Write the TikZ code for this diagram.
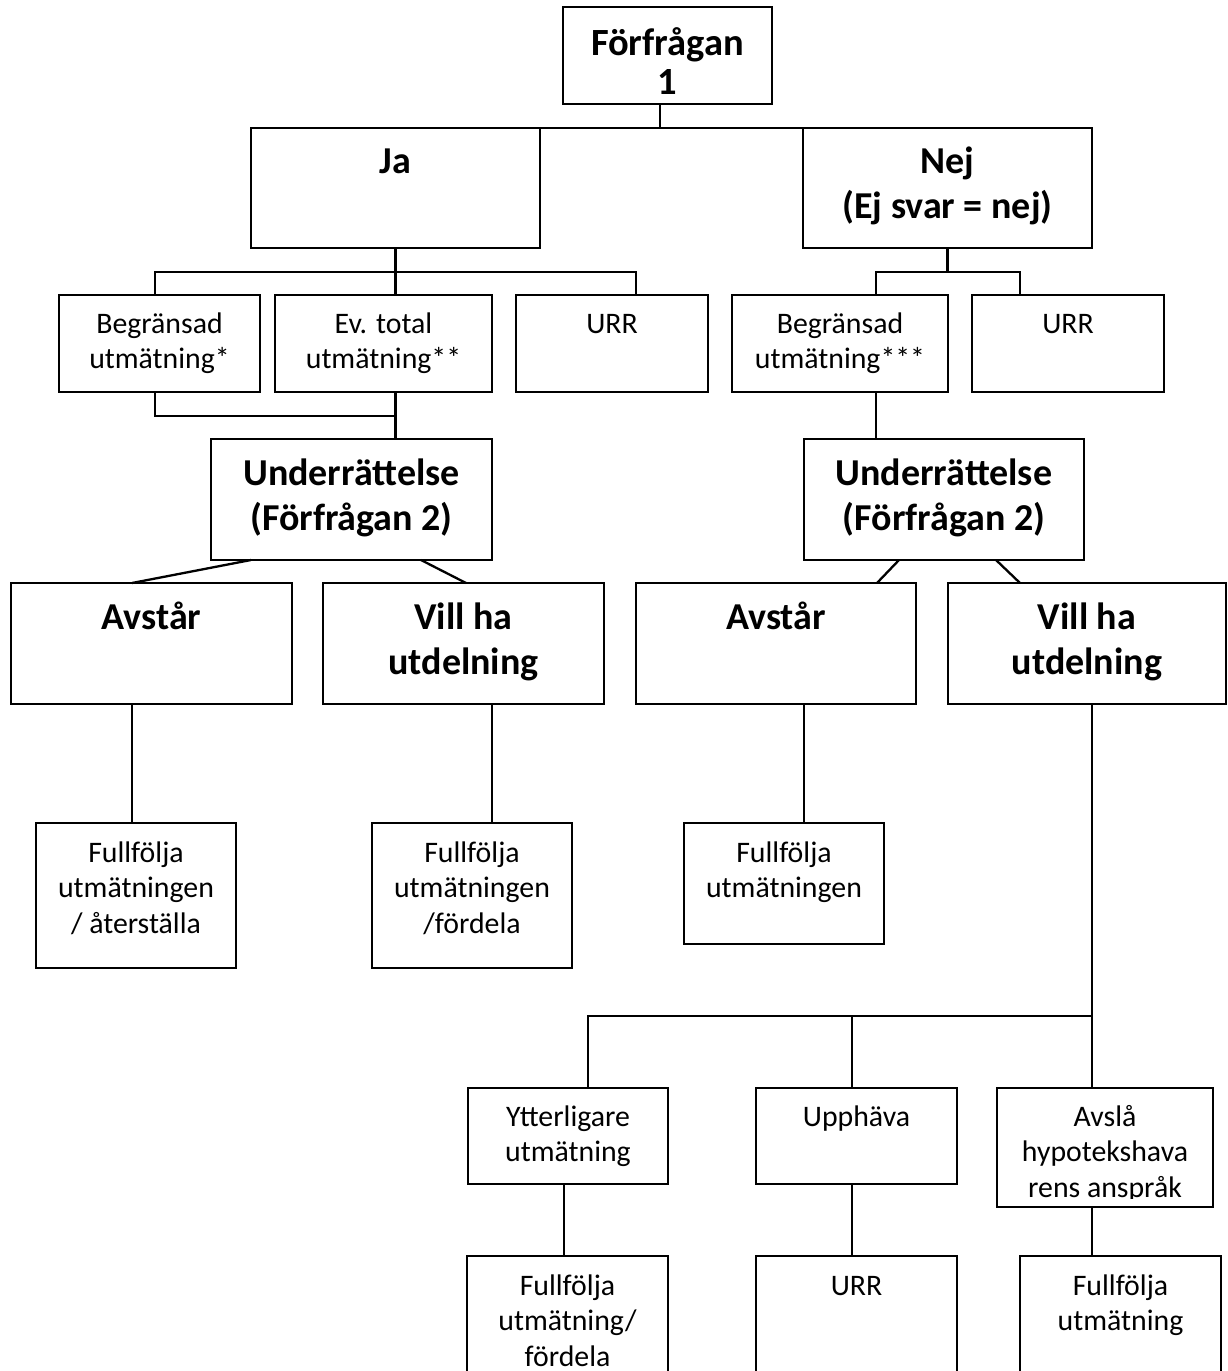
\documentclass[tikz,border=0pt]{standalone}
\usepackage{fontspec}
\setmainfont{Carlito}
\usetikzlibrary{calc}
\tikzset{
  boxst/.style={draw, line width=2.3pt, inner sep=0pt, outer sep=0pt, rectangle},
  conn/.style={line width=2.3pt, line join=miter},
  txt/.style={anchor=base, inner sep=0pt, outer sep=0pt},
}
\newcommand\txtrg{\fontsize{29.8}{35.5}\selectfont}
\newcommand\txtbd{\bfseries\fontsize{38}{45.5}\selectfont}
\newcommand\mkbox[5]{\node[boxst, minimum width={(#4-#2)*1pt}, minimum height={(#5-#3)*1pt}] (#1) at ({(#2+#4)/2},{(#3+#5)/2}) {};}
\newcommand\bxt[4]{\node[txt] (#1-t) at ([yshift=-#2pt]#1.north) {\parbox[t]{330pt}{\centering#3#4}};}
\begin{document}
\begin{tikzpicture}[x=1pt,y=-1pt]
\useasboundingbox (0,0) rectangle (1227,1371);
\clip (0,0) rectangle (1227,1371);

% boxes
\mkbox{F}{563}{7}{772}{104}
\mkbox{Ja}{251}{128}{540}{248}
\mkbox{Nej}{803}{128}{1092}{248}
\mkbox{B1}{59}{295}{260}{392}
\mkbox{E}{275}{295}{492}{392}
\mkbox{U1}{516}{295}{708}{392}
\mkbox{B3}{732}{295}{948}{392}
\mkbox{U2}{972}{295}{1164}{392}
\mkbox{UL}{211}{439}{492}{560}
\mkbox{UR}{804}{439}{1084}{560}
\mkbox{AL}{11}{583}{292}{704}
\mkbox{VL}{323}{583}{604}{704}
\mkbox{AR}{636}{583}{916}{704}
\mkbox{VR}{948}{583}{1226}{704}
\mkbox{FL}{36}{823}{236}{968}
\mkbox{FM}{372}{823}{572}{968}
\mkbox{FR}{684}{823}{884}{944}
\mkbox{Y}{468}{1088}{668}{1184}
\mkbox{UP}{756}{1088}{957}{1184}
\mkbox{AV}{997}{1088}{1213}{1207}
\mkbox{FB1}{467}{1256}{668}{1400}
\mkbox{UR3}{756}{1256}{957}{1400}
\mkbox{FB3}{1020}{1256}{1221}{1400}

% texts
\node[txt] (F-t) at ([yshift=-48pt]F.north) {\parbox[t]{330pt}{\centering\bfseries\fontsize{38.5}{39}\selectfont Förfrågan\\1}};
\bxt{Ja}{45}{\txtbd}{Ja}
\bxt{Nej}{45}{\txtbd}{Nej\\(Ej svar = nej)}
\bxt{B1}{38}{\txtrg}{Begränsad\\utmätning*}
\bxt{E}{38}{\txtrg}{Ev. total\\utmätning**}
\bxt{U1}{38}{\txtrg}{URR}
\bxt{B3}{38}{\txtrg}{Begränsad\\utmätning***}
\bxt{U2}{38}{\txtrg}{URR}
\bxt{UL}{46}{\txtbd}{Underrättelse\\(Förfrågan 2)}
\bxt{UR}{46}{\txtbd}{Underrättelse\\(Förfrågan 2)}
\bxt{AL}{46}{\txtbd}{Avstår}
\bxt{VL}{46}{\txtbd}{Vill ha\\utdelning}
\bxt{AR}{46}{\txtbd}{Avstår}
\bxt{VR}{46}{\txtbd}{Vill ha\\utdelning}
\bxt{FL}{39}{\txtrg}{Fullfölja\\utmätningen\\/ återställa}
\bxt{FM}{39}{\txtrg}{Fullfölja\\utmätningen\\/fördela}
\bxt{FR}{39}{\txtrg}{Fullfölja\\utmätningen}
\bxt{Y}{38}{\txtrg}{Ytterligare\\utmätning}
\bxt{UP}{38}{\txtrg}{Upphäva}
\begin{scope}
\clip (AV.north west) rectangle ([yshift=9pt]AV.south east);
\bxt{AV}{38}{\txtrg}{Avslå\\hypotekshava\\rens anspråk}
\end{scope}
\bxt{FB1}{39}{\txtrg}{Fullfölja\\utmätning/\\fördela}
\bxt{UR3}{39}{\txtrg}{URR}
\bxt{FB3}{39}{\txtrg}{Fullfölja\\utmätning}

% junction coordinates
\coordinate (jF) at (660,128);
\coordinate (hA1) at (155,272);
\coordinate (hA2) at (636,272);
\coordinate (hN1) at (876,272);
\coordinate (hN2) at (1020,272);
\coordinate (jB1) at (155,416);
\coordinate (jB2) at (395.5,416);
\coordinate (jB3) at (876,416);
\coordinate (xAL) at (132,760);
\coordinate (xVL) at (492,760);
\coordinate (xAR) at (804,760);
\coordinate (jY) at (588,1016);
\coordinate (jU) at (852,1016);
\coordinate (jV) at (1092,1016);
\coordinate (xY2) at (564,1220);

% connectors
\draw[conn] (F.south -| jF) -- (jF);
\draw[conn] (Ja.north east) -- (Nej.north west);
\draw[conn] (Ja.south) -- (E.north -| Ja.south);
\draw[conn] (B1.north -| hA1) -- (hA1) -- (hA2) -- (U1.north -| hA2);
\draw[conn] (Nej.south) -- (Nej.south |- hN1);
\draw[conn] (B3.north -| hN1) -- (hN1) -- (hN2) -- (U2.north -| hN2);
\draw[conn] (B1.south -| jB1) -- (jB1) -- (jB2);
\draw[conn] (E.south -| jB2) -- (UL.north -| jB2);
\draw[conn] (B3.south -| jB3) -- (UR.north -| jB3);
\draw[conn] ($(UL.south west)+(40,0)$) -- ($(AL.north west)+(121,0)$);
\draw[conn] ($(UL.south west)+(210,0)$) -- ($(VL.north west)+(143,0)$);
\draw[conn] ($(UR.south west)+(95,0)$) -- ($(AR.north west)+(241,0)$);
\draw[conn] ($(UR.south west)+(192,0)$) -- ($(VR.north west)+(72,0)$);
\draw[conn] (AL.south -| xAL) -- (FL.north -| xAL);
\draw[conn] (VL.south -| xVL) -- (FM.north -| xVL);
\draw[conn] (AR.south -| xAR) -- (FR.north -| xAR);
\draw[conn] (VR.south -| jV) -- (jV);
\draw[conn] (Y.north -| jY) -- (jY) -- (jV) -- (AV.north -| jV);
\draw[conn] (jU) -- (UP.north -| jU);
\draw[conn] (Y.south -| xY2) -- (FB1.north -| xY2);
\draw[conn] (UP.south -| jU) -- (UR3.north -| jU);
\draw[conn] (AV.south -| jV) -- (FB3.north -| jV);
\end{tikzpicture}
\end{document}
